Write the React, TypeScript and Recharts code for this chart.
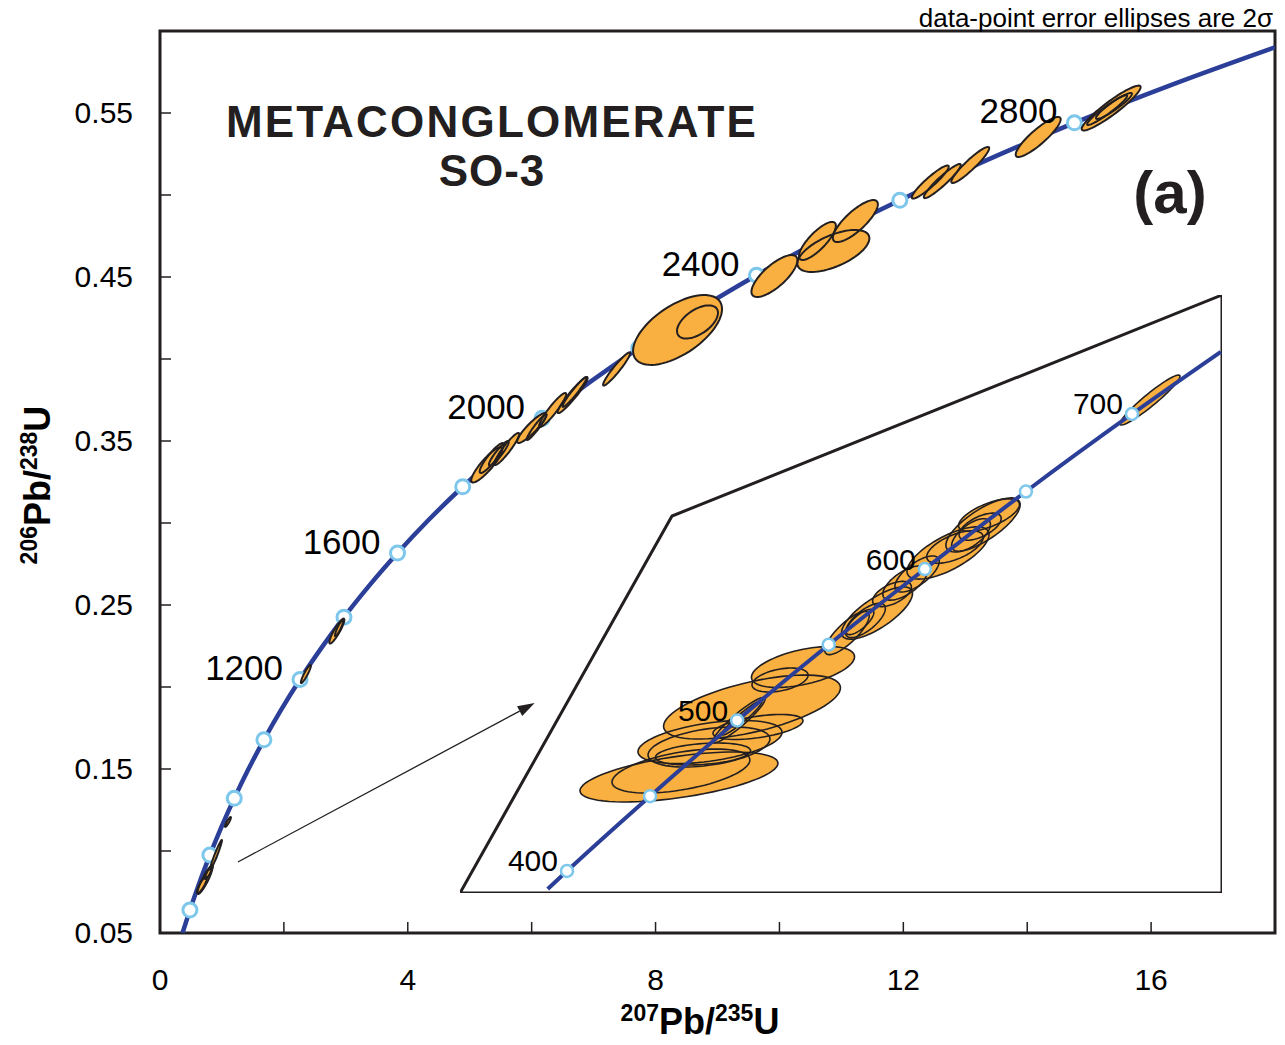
import React from "react"
import {
  ComposedChart,
  Line,
  Scatter,
  XAxis,
  YAxis,
  ReferenceArea,
  ReferenceLine,
} from "recharts"

// concordia (207Pb/235U, 206Pb/238U)
const concordiaMain = [
  { x: 0.3631, y: 0.05 }, { x: 0.4828, y: 0.064 }, { x: 0.6363, y: 0.0807 },
  { x: 0.8056, y: 0.0975 }, { x: 0.9925, y: 0.1147 }, { x: 1.1987, y: 0.1321 },
  { x: 1.4263, y: 0.1498 }, { x: 1.6774, y: 0.1678 }, { x: 1.9545, y: 0.1861 },
  { x: 2.2603, y: 0.2046 }, { x: 2.5978, y: 0.2234 }, { x: 2.9701, y: 0.2426 },
  { x: 3.381, y: 0.262 }, { x: 3.8344, y: 0.2817 }, { x: 4.3348, y: 0.3018 },
  { x: 4.8868, y: 0.3221 }, { x: 5.4962, y: 0.3428 }, { x: 6.1685, y: 0.3638 },
  { x: 6.9105, y: 0.3851 }, { x: 7.7292, y: 0.4067 }, { x: 8.6324, y: 0.4287 },
  { x: 9.6297, y: 0.4511 }, { x: 10.7297, y: 0.4738 }, { x: 11.9438, y: 0.4968 },
  { x: 13.2834, y: 0.5202 }, { x: 14.7616, y: 0.544 }, { x: 16.3932, y: 0.5681 },
  { x: 18, y: 0.5901 },
]

// age marks on the main curve (Ma)
const agesMain = [
  { age: 400, x: 0.4828, y: 0.064 }, { age: 600, x: 0.8056, y: 0.0975 },
  { age: 800, x: 1.1987, y: 0.1321 }, { age: 1000, x: 1.6774, y: 0.1678 },
  { age: 1200, x: 2.2603, y: 0.2046 }, { age: 1400, x: 2.9701, y: 0.2426 },
  { age: 1600, x: 3.8344, y: 0.2817 }, { age: 1800, x: 4.8868, y: 0.3221 },
  { age: 2000, x: 6.1685, y: 0.3638 }, { age: 2200, x: 7.7292, y: 0.4067 },
  { age: 2400, x: 9.6297, y: 0.4511 }, { age: 2600, x: 11.9438, y: 0.4968 },
  { age: 2800, x: 14.7616, y: 0.544 },
]
const labelledMain = [1200, 1600, 2000, 2400, 2800]

// data-point ellipses, main panel: centre, 2s extent in x and y, correlation
const ellipsesMain = [
  { x: 8.355, y: 0.4177, ex: 0.718, ey: 0.0213, rho: 0.6 },
  { x: 8.677, y: 0.4226, ex: 0.331, ey: 0.0101, rho: 0.55 },
  { x: 7.371, y: 0.3939, ex: 0.218, ey: 0.0101, rho: 0.95 },
  { x: 9.919, y: 0.4506, ex: 0.371, ey: 0.0128, rho: 0.75 },
  { x: 10.871, y: 0.4659, ex: 0.581, ey: 0.0128, rho: 0.6 },
  { x: 10.613, y: 0.472, ex: 0.298, ey: 0.0116, rho: 0.8 },
  { x: 11.226, y: 0.4841, ex: 0.363, ey: 0.0128, rho: 0.8 },
  { x: 12.435, y: 0.5079, ex: 0.298, ey: 0.0101, rho: 0.93 },
  { x: 12.629, y: 0.5085, ex: 0.298, ey: 0.0104, rho: 0.94 },
  { x: 13.08, y: 0.5183, ex: 0.306, ey: 0.011, rho: 0.93 },
  { x: 14.177, y: 0.5354, ex: 0.363, ey: 0.0122, rho: 0.88 },
  { x: 15.355, y: 0.553, ex: 0.476, ey: 0.0137, rho: 0.93 },
  { x: 15.29, y: 0.5518, ex: 0.323, ey: 0.0091, rho: 0.95 },
  { x: 15.4, y: 0.5543, ex: 0.29, ey: 0.0079, rho: 0.93 },
  { x: 5.274, y: 0.3354, ex: 0.25, ey: 0.0107, rho: 0.88 },
  { x: 5.355, y: 0.3396, ex: 0.194, ey: 0.0091, rho: 0.9 },
  { x: 5.47, y: 0.3425, ex: 0.16, ey: 0.0075, rho: 0.92 },
  { x: 5.597, y: 0.3451, ex: 0.202, ey: 0.0098, rho: 0.93 },
  { x: 6.0, y: 0.3579, ex: 0.234, ey: 0.0091, rho: 0.9 },
  { x: 6.081, y: 0.3585, ex: 0.161, ey: 0.0079, rho: 0.95 },
  { x: 6.339, y: 0.3689, ex: 0.218, ey: 0.0104, rho: 0.93 },
  { x: 6.661, y: 0.378, ex: 0.242, ey: 0.011, rho: 0.95 },
  { x: 6.694, y: 0.3799, ex: 0.194, ey: 0.0091, rho: 0.96 },
  { x: 2.855, y: 0.2341, ex: 0.121, ey: 0.0076, rho: 0.9 },
  { x: 2.89, y: 0.2359, ex: 0.065, ey: 0.0049, rho: 0.9 },
  { x: 2.355, y: 0.2079, ex: 0.081, ey: 0.0055, rho: 0.92 },
  { x: 1.097, y: 0.1177, ex: 0.048, ey: 0.003, rho: 0.9 },
  { x: 0.903, y: 0.0976, ex: 0.097, ey: 0.0091, rho: 0.97 },
  { x: 0.726, y: 0.0823, ex: 0.121, ey: 0.0085, rho: 0.9 },
  { x: 0.677, y: 0.0793, ex: 0.08, ey: 0.005, rho: 0.85 },
  { x: 0.79, y: 0.0872, ex: 0.065, ey: 0.0043, rho: 0.9 },
]

// inset (young grains)
const concordiaInset = [
  { x: 0.4654, y: 0.062 }, { x: 0.4828, y: 0.064 }, { x: 0.5577, y: 0.0723 },
  { x: 0.6363, y: 0.0807 }, { x: 0.7189, y: 0.0891 }, { x: 0.8056, y: 0.0975 },
  { x: 0.8968, y: 0.1061 }, { x: 0.9925, y: 0.1147 }, { x: 1.0726, y: 0.1216 },
]
const agesInset = [
  { age: 400, x: 0.4828, y: 0.064 }, { age: 450, x: 0.5577, y: 0.0723 },
  { age: 500, x: 0.6363, y: 0.0807 }, { age: 550, x: 0.7189, y: 0.0891 },
  { age: 600, x: 0.8056, y: 0.0975 }, { age: 650, x: 0.8968, y: 0.1061 },
  { age: 700, x: 0.9925, y: 0.1147 },
]
const labelledInset = [400, 500, 600, 700]

const ellipsesInset = [
  { x: 0.5838, y: 0.07443, ex: 0.0893, ey: 0.00277, rho: 0.55 },
  { x: 0.5856, y: 0.07509, ex: 0.0622, ey: 0.00244, rho: 0.5 },
  { x: 0.6118, y: 0.07831, ex: 0.065, ey: 0.00239, rho: 0.45 },
  { x: 0.6109, y: 0.07776, ex: 0.055, ey: 0.00222, rho: 0.4 },
  { x: 0.6055, y: 0.07698, ex: 0.0429, ey: 0.00122, rho: 0.3 },
  { x: 0.6497, y: 0.08219, ex: 0.0798, ey: 0.00355, rho: 0.6 },
  { x: 0.6551, y: 0.07998, ex: 0.0406, ey: 0.00139, rho: 0.5 },
  { x: 0.638, y: 0.08075, ex: 0.0235, ey: 0.0025, rho: 0.93 },
  { x: 0.6407, y: 0.081, ex: 0.018, ey: 0.0019, rho: 0.95 },
  { x: 0.6957, y: 0.08663, ex: 0.0465, ey: 0.00227, rho: 0.5 },
  { x: 0.675, y: 0.08519, ex: 0.0253, ey: 0.00133, rho: 0.4 },
  { x: 0.7625, y: 0.09262, ex: 0.032, ey: 0.0029, rho: 0.75 },
  { x: 0.7354, y: 0.0904, ex: 0.02, ey: 0.0024, rho: 0.8 },
  { x: 0.7471, y: 0.09162, ex: 0.0125, ey: 0.0014, rho: 0.75 },
  { x: 0.752, y: 0.0918, ex: 0.018, ey: 0.0019, rho: 0.7 },
  { x: 0.776, y: 0.09473, ex: 0.0175, ey: 0.0014, rho: 0.55 },
  { x: 0.7877, y: 0.09595, ex: 0.02, ey: 0.0019, rho: 0.65 },
  { x: 0.7986, y: 0.09695, ex: 0.02, ey: 0.002, rho: 0.7 },
  { x: 0.8265, y: 0.09928, ex: 0.037, ey: 0.0029, rho: 0.7 },
  { x: 0.8328, y: 0.09994, ex: 0.0255, ey: 0.0018, rho: 0.6 },
  { x: 0.8581, y: 0.10239, ex: 0.0335, ey: 0.003, rho: 0.75 },
  { x: 0.8473, y: 0.10128, ex: 0.0175, ey: 0.0018, rho: 0.65 },
  { x: 0.8635, y: 0.10349, ex: 0.0275, ey: 0.0018, rho: 0.65 },
  { x: 0.8555, y: 0.1022, ex: 0.019, ey: 0.0015, rho: 0.6 },
  { x: 1.0087, y: 0.11625, ex: 0.0271, ey: 0.00277, rho: 0.95 },
]

// outline of the inset panel, in the inset's own ratio space
const insetFrame = [
  { x: 0.38627, y: 0.061559 }, { x: 0.57752, y: 0.10338 },
  { x: 1.07369, y: 0.127901 }, { x: 1.07369, y: 0.061559 },
  { x: 0.38627, y: 0.061559 },
]

const xTicks = [0, 2, 4, 6, 8, 10, 12, 14, 16, 18]
const xTickLabels = [0, 4, 8, 12, 16]
const yTicks = [0.05, 0.1, 0.15, 0.2, 0.25, 0.3, 0.35, 0.4, 0.45, 0.5, 0.55]
const yTickLabels = ["0.05", "0.15", "0.25", "0.35", "0.45", "0.55"]

const arrowSeg = [{ x: 1.258, y: 0.0933 }, { x: 6.048, y: 0.1902 }]

const ORANGE = "#fab040"
const BLUE = "#2b3f98"
const MARK = "#7cc7eb"
const INK = "#231f20"
const FONT = "'Liberation Sans', Arial, Helvetica, sans-serif"

const MAIN_X: [number, number] = [0, 18]
const MAIN_Y: [number, number] = [0.05, 0.6]
const MAIN_PW = 1115
const MAIN_PH = 902
const INSET_X: [number, number] = [0.38627, 1.07369]
const INSET_Y: [number, number] = [0.061559, 0.127901]
const INSET_PW = 762
const INSET_PH = 598

function ellipsePath(cx: number, cy: number, rx: number, ry: number, rho: number) {
  const s = Math.sqrt(1 - rho * rho)
  let d = ""
  for (let i = 0; i <= 72; i++) {
    const t = (i / 72) * Math.PI * 2
    const px = cx + rx * Math.cos(t)
    const py = cy - ry * (rho * Math.cos(t) + s * Math.sin(t))
    d += (i ? "L" : "M") + px.toFixed(2) + "," + py.toFixed(2)
  }
  return d + "Z"
}

function ellipseShape(kx: number, ky: number, outline: boolean, sw: number) {
  return (p: any) => {
    const e = p.payload
    if (p.cx == null || !e) return <g />
    return (
      <path
        d={ellipsePath(p.cx, p.cy, e.ex * kx, e.ey * ky, e.rho)}
        fill={outline ? "none" : ORANGE}
        stroke={outline ? INK : "none"}
        strokeWidth={sw}
      />
    )
  }
}

function markShape(r: number, sw: number) {
  return (p: any) => (
    <circle cx={p.cx} cy={p.cy} r={r} fill="#fff" stroke={MARK} strokeWidth={sw} />
  )
}

function ageLabel(list: number[], size: number, dx: number, dy: number) {
  return (p: any) => {
    if (!list.includes(p.payload.age)) return <g />
    return (
      <text
        x={p.cx - dx}
        y={p.cy - dy}
        textAnchor="end"
        dominantBaseline="central"
        fontFamily={FONT}
        fontSize={size}
        fill="#000"
      >
        {p.payload.age}
      </text>
    )
  }
}

const XTick = (p: any) => {
  const v = p.payload.value
  return (
    <g>
      <line x1={p.x} x2={p.x} y1={p.y} y2={p.y - 11} stroke={INK} strokeWidth={1.5} />
      {xTickLabels.includes(v) && (
        <text x={p.x} y={p.y + 57} textAnchor="middle" fontFamily={FONT} fontSize={30} fill="#000">
          {v}
        </text>
      )}
    </g>
  )
}

const YTick = (p: any) => {
  const v = Number(p.payload.value).toFixed(2)
  return (
    <g>
      <line x1={p.x} x2={p.x + 11} y1={p.y} y2={p.y} stroke={INK} strokeWidth={1.5} />
      {yTickLabels.includes(v) && (
        <text x={p.x - 27} y={p.y + 10} textAnchor="end" fontFamily={FONT} fontSize={30} fill="#000">
          {v}
        </text>
      )}
    </g>
  )
}

const Arrow = (p: any) => {
  const { x1, y1, x2, y2 } = p
  const len = Math.hypot(x2 - x1, y2 - y1)
  const ux = (x2 - x1) / len
  const uy = (y2 - y1) / len
  const bx = x2 - ux * 17
  const by = y2 - uy * 17
  return (
    <g>
      <line x1={x1} y1={y1} x2={bx} y2={by} stroke={INK} strokeWidth={1.3} />
      <polygon
        points={`${x2},${y2} ${bx - uy * 5.5},${by + ux * 5.5} ${bx + uy * 5.5},${by - ux * 5.5}`}
        fill={INK}
      />
    </g>
  )
}

function MainPanel() {
  const kx = MAIN_PW / (MAIN_X[1] - MAIN_X[0])
  const ky = MAIN_PH / (MAIN_Y[1] - MAIN_Y[0])
  return (
    <ComposedChart width={1285} height={1045} margin={{ top: 31, right: 10, bottom: 52, left: 100 }}>
      <XAxis
        type="number"
        dataKey="x"
        domain={MAIN_X}
        ticks={xTicks}
        interval={0}
        height={60}
        axisLine={false}
        tickLine={false}
        tickSize={0}
        tickMargin={0}
        tick={<XTick />}
        allowDataOverflow
      />
      <YAxis
        type="number"
        dataKey="y"
        domain={MAIN_Y}
        ticks={yTicks}
        interval={0}
        width={60}
        axisLine={false}
        tickLine={false}
        tickSize={0}
        tickMargin={0}
        tick={<YTick />}
        allowDataOverflow
      />
      <ReferenceArea x1={0} x2={18} y1={0.05} y2={0.6} fill="none" stroke={INK} strokeWidth={3} fillOpacity={0} />
      <Line
        data={concordiaMain}
        dataKey="y"
        type="monotone"
        stroke={BLUE}
        strokeWidth={4.5}
        dot={false}
        activeDot={false}
        isAnimationActive={false}
        zIndex={400}
      />
      <Scatter data={agesMain} dataKey="y" shape={markShape(7, 3)} isAnimationActive={false} zIndex={500} />
      <Scatter data={ellipsesMain} dataKey="y" shape={ellipseShape(kx, ky, false, 2)} isAnimationActive={false} zIndex={600} />
      <Scatter data={ellipsesMain} dataKey="y" shape={ellipseShape(kx, ky, true, 2)} isAnimationActive={false} zIndex={700} />
      <Scatter data={agesMain} dataKey="y" shape={ageLabel(labelledMain, 35, 17, 12)} isAnimationActive={false} zIndex={800} />
      <ReferenceLine segment={arrowSeg} shape={Arrow} zIndex={800} />
    </ComposedChart>
  )
}

function InsetPanel() {
  const kx = INSET_PW / (INSET_X[1] - INSET_X[0])
  const ky = INSET_PH / (INSET_Y[1] - INSET_Y[0])
  return (
    <ComposedChart width={782} height={618} margin={{ top: 10, right: 10, bottom: 10, left: 10 }}>
      <XAxis type="number" dataKey="x" domain={INSET_X} hide allowDataOverflow />
      <YAxis type="number" dataKey="y" domain={INSET_Y} hide allowDataOverflow width={0} />
      <Line
        data={insetFrame}
        dataKey="y"
        type="linear"
        stroke={INK}
        strokeWidth={3}
        dot={false}
        activeDot={false}
        isAnimationActive={false}
        strokeLinejoin="miter"
        zIndex={300}
      />
      <Scatter data={ellipsesInset} dataKey="y" shape={ellipseShape(kx, ky, false, 1.6)} isAnimationActive={false} zIndex={400} />
      <Scatter data={ellipsesInset} dataKey="y" shape={ellipseShape(kx, ky, true, 1.6)} isAnimationActive={false} zIndex={500} />
      <Line
        data={concordiaInset}
        dataKey="y"
        type="monotone"
        stroke={BLUE}
        strokeWidth={4}
        dot={false}
        activeDot={false}
        isAnimationActive={false}
        zIndex={600}
      />
      <Scatter data={agesInset} dataKey="y" shape={markShape(6, 2.5)} isAnimationActive={false} zIndex={700} />
      <Scatter data={agesInset} dataKey="y" shape={ageLabel(labelledInset, 30, 9, 10)} isAnimationActive={false} zIndex={800} />
    </ComposedChart>
  )
}

export default function App() {
  return (
    <div style={{ position: "relative", width: 1285, height: 1045, fontFamily: FONT, background: "#fff" }}>
      <style>{"body{margin:0}"}</style>
      <MainPanel />
      <div style={{ position: "absolute", left: 450, top: 285 }}>
        <InsetPanel />
      </div>
      <svg
        width={1285}
        height={1045}
        style={{ position: "absolute", left: 0, top: 0, pointerEvents: "none" }}
        fontFamily={FONT}
      >
        <text x={1273} y={27} textAnchor="end" fontSize={26}>
          data-point error ellipses are 2σ
        </text>
        <text x={492} y={137} textAnchor="middle" fontSize={44} letterSpacing={2.2} fontWeight="bold" fill={INK}>
          METACONGLOMERATE
        </text>
        <text x={492} y={186} textAnchor="middle" fontSize={44} letterSpacing={1} fontWeight="bold" fill={INK}>
          SO-3
        </text>
        <text x={1170} y={213} textAnchor="middle" fontSize={60} fontWeight="bold" fill={INK}>
          (a)
        </text>
        <text x={700} y={1034} textAnchor="middle" fontWeight="bold" fill="#000">
          <tspan fontSize={23} dy={-13}>207</tspan>
          <tspan fontSize={36} dy={13}>Pb/</tspan>
          <tspan fontSize={23} dy={-13}>235</tspan>
          <tspan fontSize={36} dy={13}>U</tspan>
        </text>
        <text transform="translate(50,485) rotate(-90)" textAnchor="middle" fontWeight="bold" fill="#000">
          <tspan fontSize={23} dy={-13}>206</tspan>
          <tspan fontSize={36} dy={13}>Pb/</tspan>
          <tspan fontSize={23} dy={-13}>238</tspan>
          <tspan fontSize={36} dy={13}>U</tspan>
        </text>
      </svg>
    </div>
  )
}
